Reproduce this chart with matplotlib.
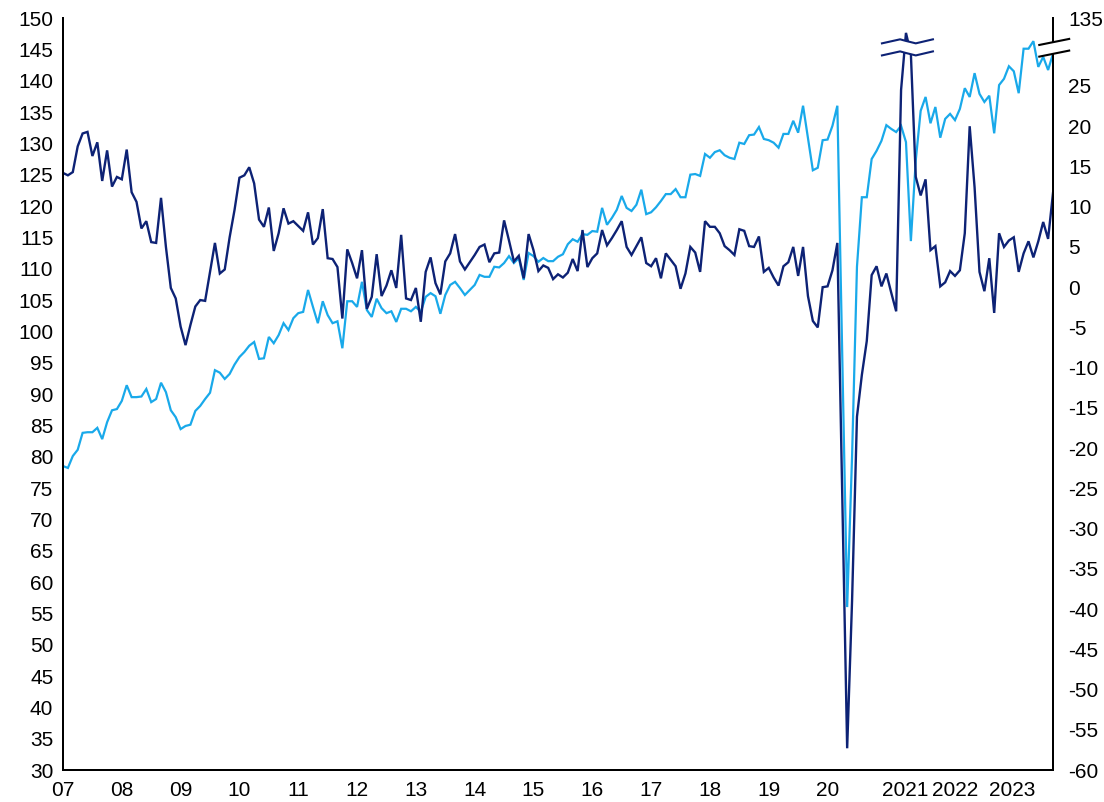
import numpy as np
import matplotlib
matplotlib.use("Agg")
import matplotlib.pyplot as plt
from matplotlib.patches import Polygon

plt.rcParams['font.family'] = ['Liberation Sans', 'DejaVu Sans']

# ---- data (monthly, Jan 2007 .. Nov 2023) ----
index_level = [
    78.5, 78.2, 80.1, 81.1, 83.8, 83.9, 83.9, 84.6, 82.8, 85.5, 87.4, 87.6,
    88.9, 91.4, 89.5, 89.5, 89.6, 90.8, 88.7, 89.2, 91.8, 90.3, 87.4, 86.3,
    84.4, 84.9, 85.1, 87.3, 88.1, 89.2, 90.2, 93.8, 93.4, 92.4, 93.2, 94.7,
    95.9, 96.7, 97.7, 98.3, 95.6, 95.7, 99.1, 98.1, 99.4, 101.3, 100.2, 102.1,
    102.9, 103.1, 106.6, 103.9, 101.3, 104.8, 102.6, 101.3, 101.6, 97.3, 104.8, 104.8,
    103.9, 107.9, 103.4, 102.3, 105.2, 103.7, 102.9, 103.2, 101.5, 103.6, 103.6, 103.2,
    103.9, 103.1, 105.5, 106.1, 105.6, 102.8, 105.8, 107.4, 107.9, 106.9, 105.8, 106.6,
    107.4, 109.0, 108.7, 108.7, 110.3, 110.2, 110.9, 112.0, 110.9, 111.7, 108.2, 112.5,
    112.0, 111.1, 111.7, 111.2, 111.2, 111.9, 112.3, 113.9, 114.7, 114.3, 115.5, 115.4,
    116.0, 115.9, 119.7, 117.0, 118.1, 119.4, 121.6, 119.7, 119.2, 120.2, 122.6, 118.7,
    119.0, 119.8, 120.8, 121.9, 121.9, 122.7, 121.4, 121.4, 125.0, 125.1, 124.8, 128.3,
    127.7, 128.6, 128.9, 128.1, 127.7, 127.5, 130.1, 129.9, 131.3, 131.4, 132.6, 130.7,
    130.5, 130.1, 129.3, 131.5, 131.5, 133.6, 131.7, 136.0, 130.9, 125.7, 126.1, 130.5,
    130.6, 132.8, 136.0, 96.0, 56.0, 80.0, 110.3, 121.4, 121.4, 127.5, 128.8, 130.4,
    132.9, 132.3, 131.8, 132.8, 130.2, 114.4, 127.3, 135.2, 137.4, 133.2, 135.8, 130.9,
    133.9, 134.7, 133.7, 135.5, 138.8, 137.4, 141.2, 137.9, 136.6, 137.6, 131.6, 139.3,
    140.3, 142.3, 141.5, 138.0, 145.1, 145.1, 146.3, 142.2, 143.8, 141.7, 144.3,
]

yoy_change = [
    14.2, 13.9, 14.3, 17.5, 19.1, 19.3, 16.3, 18.0, 13.2, 17.0, 12.5, 13.7,
    13.4, 17.1, 11.8, 10.6, 7.3, 8.2, 5.6, 5.5, 11.1, 5.0, -0.1, -1.4,
    -4.9, -7.2, -4.7, -2.4, -1.6, -1.7, 1.9, 5.5, 1.7, 2.2, 6.2, 9.6,
    13.6, 13.9, 14.9, 12.9, 8.4, 7.5, 9.9, 4.5, 6.7, 9.8, 7.9, 8.2,
    7.6, 7.0, 9.3, 5.3, 6.1, 9.7, 3.6, 3.5, 2.5, -3.9, 4.7, 3.0,
    1.1, 4.6, -2.7, -1.2, 4.1, -1.1, 0.2, 2.1, -0.1, 6.5, -1.4, -1.6,
    -0.1, -4.3, 1.9, 3.7, 0.5, -0.9, 3.2, 4.2, 6.6, 3.2, 2.2, 3.1,
    4.0, 5.0, 5.3, 3.1, 4.2, 4.3, 8.3, 5.8, 3.2, 3.9, 1.1, 6.6,
    4.6, 2.0, 2.7, 2.4, 1.0, 1.6, 1.2, 1.8, 3.5, 2.0, 7.1, 2.5,
    3.6, 4.2, 7.1, 5.2, 6.1, 7.1, 8.2, 5.0, 4.0, 5.1, 6.2, 3.0,
    2.6, 3.6, 1.1, 4.2, 3.4, 2.6, -0.2, 1.7, 5.0, 4.3, 1.9, 8.2,
    7.5, 7.5, 6.7, 5.1, 4.6, 4.0, 7.2, 7.0, 5.1, 5.0, 6.3, 1.9,
    2.4, 1.2, 0.2, 2.6, 3.1, 5.0, 1.4, 5.0, -1.1, -4.2, -5.0, 0.0,
    0.1, 2.1, 5.5, -25.8, -57.3, -39.0, -16.1, -10.9, -6.7, 1.5, 2.6, 0.1,
    1.7, -0.7, -3.0, 24.5, 31.6, 29.0, 13.7, 11.4, 13.4, 4.6, 5.1, 0.1,
    0.6, 2.0, 1.4, 2.1, 6.7, 20.0, 12.4, 1.9, -0.5, 3.6, -3.2, 6.7,
    5.0, 5.8, 6.2, 1.9, 4.2, 5.7, 3.7, 5.7, 8.1, 6.0, 11.7,
]

x_labels = ['07', '08', '09', '10', '11', '12', '13', '14', '15', '16',
            '17', '18', '19', '20', '2021', '2022', '2023']
x_label_pos = [0, 12, 24, 36, 48, 60, 72, 84, 96, 108,
               120, 132, 144, 156, 171.8, 182.0, 193.7]

left_ticks = list(range(30, 151, 5))
right_ticks = list(range(-60, 26, 5))
right_top_value = 33.45
right_top_label = '135'

LIGHT = '#19A9EA'
DARK = '#0D2275'

W, H = 1104, 802
fig = plt.figure(figsize=(W / 100, H / 100), dpi=100)
ax = fig.add_axes([63 / W, 1 - 770 / H, (1053 - 63) / W, (770 - 18) / H])
ax2 = ax.twinx()

months = np.arange(len(index_level))
ax.plot(months, index_level, color=LIGHT, lw=1.6, solid_joinstyle='miter')
ax2.plot(months, yoy_change, color=DARK, lw=1.7, solid_joinstyle='miter')

ax.set_xlim(0, len(index_level) - 1)
ax.set_ylim(30, 150)
ax2.set_ylim(-60, right_top_value)

ax.set_yticks(left_ticks)
ax.set_yticklabels([str(t) for t in left_ticks])
ax2.set_yticks(right_ticks + [right_top_value])
ax2.set_yticklabels([str(t) for t in right_ticks] + [right_top_label])
ax.set_xticks(x_label_pos)
ax.set_xticklabels(x_labels)

for a in (ax, ax2):
    a.tick_params(length=0, labelsize=15, colors='black')
    a.spines['top'].set_visible(False)
    for s in ('left', 'right', 'bottom'):
        a.spines[s].set_linewidth(1.4)
        a.spines[s].set_color('black')
ax.tick_params(axis='y', pad=7)
ax2.tick_params(axis='y', pad=11)
ax.tick_params(axis='x', pad=8)

# ---- break marker on the series spike (2021) ----
bx = np.array([167.1, 170.8, 172.0, 174.0, 177.5])
top_line = np.array([30.3, 30.8, 30.6, 30.3, 30.8])
bot_line = top_line - 1.5
poly = Polygon(np.column_stack([np.r_[bx, bx[::-1]], np.r_[top_line, bot_line[::-1]]]),
               closed=True, facecolor='white', edgecolor='none', zorder=5)
ax2.add_patch(poly)
ax2.plot(bx, top_line, color=DARK, lw=1.5, zorder=6)
ax2.plot(bx, bot_line, color=DARK, lw=1.5, zorder=6)

# ---- break marker on the right axis ----
rx = np.array([199.2, 205.3])
rtop = np.array([30.1, 30.85])
rbot = rtop - 1.45
poly2 = Polygon(np.column_stack([np.r_[rx, rx[::-1]], np.r_[rtop, rbot[::-1]]]),
                closed=True, facecolor='white', edgecolor='none', zorder=5, clip_on=False)
ax2.add_patch(poly2)
ax2.plot(rx, rtop, color='black', lw=1.5, zorder=6, clip_on=False)
ax2.plot(rx, rbot, color='black', lw=1.5, zorder=6, clip_on=False)

fig.savefig('out.png', dpi=100)
